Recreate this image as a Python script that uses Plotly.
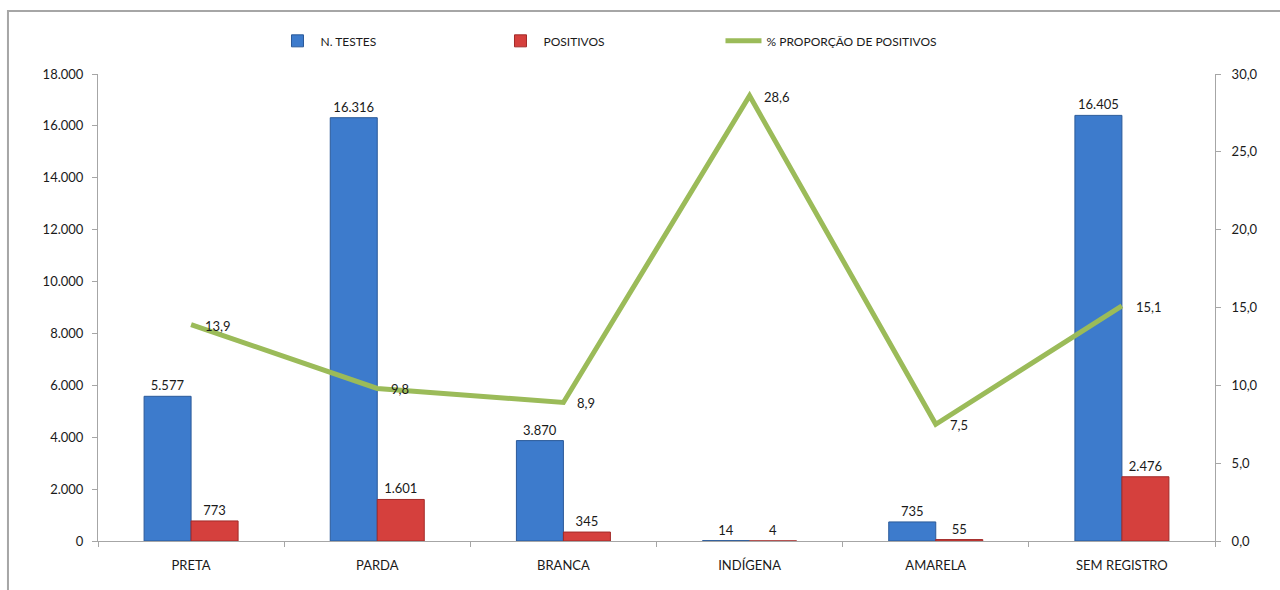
import plotly.graph_objects as go

# Categories and series
categorias = ["PRETA", "PARDA", "BRANCA", "INDÍGENA", "AMARELA", "SEM REGISTRO"]
n_testes = [5577, 16316, 3870, 14, 735, 16405]
positivos = [773, 1601, 345, 4, 55, 2476]
proporcao = [13.9, 9.8, 8.9, 28.6, 7.5, 15.1]

left_ticks = list(range(0, 18001, 2000))
right_ticks = [0, 5, 10, 15, 20, 25, 30]

FONT = "Lato"
TXT = "#1a1a1a"
AXIS_GRAY = "#a6a6a6"

fig = go.Figure()

fig.add_trace(go.Bar(
    x=categorias, y=n_testes, name="N. TESTES",
    marker=dict(color="#3d7bcc", line=dict(color="#2b5a99", width=1)),
    texttemplate="%{y:,d}", textposition="outside",
    textfont=dict(family=FONT, size=13, color=TXT),
    cliponaxis=False,
))
fig.add_trace(go.Bar(
    x=categorias, y=positivos, name="POSITIVOS",
    marker=dict(color="#d5403d", line=dict(color="#a22a28", width=1)),
    texttemplate="%{y:,d}", textposition="outside",
    textfont=dict(family=FONT, size=13, color=TXT),
    cliponaxis=False,
))
fig.add_trace(go.Scatter(
    x=categorias, y=proporcao, name="% PROPORÇÃO DE POSITIVOS",
    mode="lines", yaxis="y2",
    line=dict(color="#9bbb59", width=5),
))

# Value labels to the right of each line point
for cat, v in zip(categorias, proporcao):
    fig.add_annotation(
        x=cat, y=v, yref="y2", text=f"{v:.1f}".replace(".", ","),
        showarrow=False, xanchor="left", yanchor="middle",
        xshift=12, yshift=-1,
        font=dict(family=FONT, size=13, color=TXT),
    )

# Outer frame of the chart area
fig.add_shape(
    type="path", xref="paper", yref="paper",
    path="M -0.0806,-0.2 L -0.0806,1.1349 L 1.2,1.1349",
    line=dict(color=AXIS_GRAY, width=2),
)

fig.update_layout(
    width=1280, height=590,
    margin=dict(l=98, r=65, t=74, b=49),
    paper_bgcolor="white", plot_bgcolor="white",
    separators=",.",
    barmode="group", bargap=0.495, bargroupgap=0,
    font=dict(family=FONT, size=13, color=TXT),
    showlegend=True,
    legend=dict(
        orientation="h", x=0.158, y=1.071, xanchor="left", yanchor="middle",
        entrywidth=172, entrywidthmode="pixels",
        font=dict(family=FONT, size=12, color=TXT),
        itemwidth=36,
        traceorder="normal",
    ),
    xaxis=dict(
        type="category", showline=True, linecolor=AXIS_GRAY, linewidth=1,
        ticks="outside", tickson="boundaries", ticklen=5, tickcolor=AXIS_GRAY,
        ticklabelstandoff=12,
        showgrid=False, tickfont=dict(family=FONT, size=13, color=TXT),
    ),
    yaxis=dict(
        range=[0, 18000], tickvals=left_ticks, tickformat=",d",
        showline=True, linecolor=AXIS_GRAY, linewidth=1,
        ticks="outside", ticklen=5, tickcolor=AXIS_GRAY,
        ticklabelstandoff=6,
        showgrid=False, zeroline=False,
        tickfont=dict(family=FONT, size=13, color=TXT),
    ),
    yaxis2=dict(
        overlaying="y", side="right", range=[0, 30], tickvals=right_ticks,
        tickformat=".1f", showline=True, linecolor=AXIS_GRAY, linewidth=1,
        ticks="outside", ticklen=5, tickcolor=AXIS_GRAY,
        ticklabelstandoff=8,
        showgrid=False, zeroline=False,
        tickfont=dict(family=FONT, size=13, color=TXT),
    ),
)

fig.write_html("out.html")
